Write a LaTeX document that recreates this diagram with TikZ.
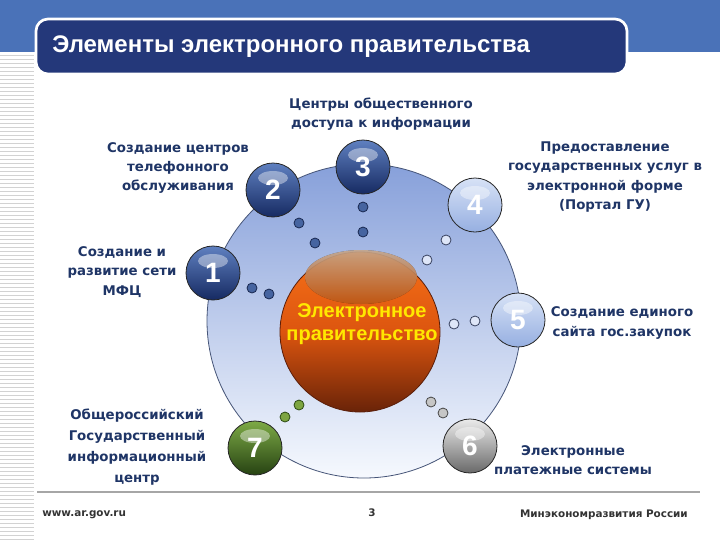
\documentclass[tikz,border=0pt]{standalone}
\usepackage{fontspec}
\setmainfont{DejaVu Sans}
\newfontfamily\arialfont{Liberation Sans}
\usepackage{tikz}

\definecolor{bandblue}{RGB}{74,114,184}
\definecolor{titlenavy}{RGB}{36,56,122}
\definecolor{lbltext}{RGB}{31,53,102}
\definecolor{ringtop}{RGB}{135,160,218}
\definecolor{ringbot}{RGB}{246,249,254}
\definecolor{egovtop}{RGB}{246,112,24}
\definecolor{egovbot}{RGB}{105,35,8}
\definecolor{egovtext}{RGB}{255,232,0}

\tikzset{
  sphere/.style={circle, draw=black!85, line width=0.6pt, minimum size=40.5pt, inner sep=0pt,
    text=white, font=\arialfont\bfseries\fontsize{21}{21}\selectfont,
    path picture={\fill[white, opacity=0.4] (path picture bounding box.center) ++(0,12)
      ellipse [x radius=15, y radius=7];}},
  bluesphere/.style={sphere, top color={rgb,255:red,95;green,128;blue,192}, bottom color={rgb,255:red,22;green,42;blue,98}},
  lightsphere/.style={sphere, top color={rgb,255:red,215;green,226;blue,246}, bottom color={rgb,255:red,150;green,175;blue,225}},
  graysphere/.style={sphere, top color={rgb,255:red,235;green,235;blue,235}, bottom color={rgb,255:red,105;green,105;blue,105}},
  greensphere/.style={sphere, top color={rgb,255:red,125;green,170;blue,70}, bottom color={rgb,255:red,38;green,66;blue,18}},
  dot/.style={circle, minimum size=7.5pt, inner sep=0pt, line width=0.6pt},
  bluedot/.style={dot, fill={rgb,255:red,70;green,100;blue,160}, draw={rgb,255:red,25;green,40;blue,80}},
  lightdot/.style={dot, fill={rgb,255:red,222;green,230;blue,248}, draw={rgb,255:red,55;green,65;blue,95}},
  graydot/.style={dot, fill=gray!45, draw=gray!55!black},
  greendot/.style={dot, fill={rgb,255:red,125;green,165;blue,65}, draw={rgb,255:red,45;green,75;blue,20}},
  lbl/.style={align=center, text=lbltext, font=\bfseries\fontsize{10}{14.5}\selectfont, inner sep=0pt},
  foot/.style={text=black!80, font=\bfseries\fontsize{7.8}{8}\selectfont, inner sep=0pt}
}

\begin{document}
\begin{tikzpicture}[x=0.75pt,y=0.75pt,yscale=-1,xscale=1]
\useasboundingbox (0,0) rectangle (720,540);

% background, band and stripes
\fill[white] (0,0) rectangle (720,540);
\fill[bandblue] (0,0) rectangle (720,52);
\foreach \y in {55,59,...,539}
  \draw[gray!35, line width=0.6pt] (0,\y) -- (34,\y);

% title
\draw[white, line width=2pt, fill=titlenavy, rounded corners=9] (36,19) rectangle (627,74);
\node (title) [anchor=west, text=white, inner sep=0pt, font=\arialfont\bfseries\fontsize{18}{18}\selectfont] at (52,47) {Элементы электронного правительства};

% big ring
\draw[top color=ringtop, bottom color=ringbot, draw={rgb,255:red,70;green,85;blue,120}, line width=0.6pt] (364,321) circle [radius=157];

% small dots
\node (d1a) [bluedot] at (252,288) {};
\node (d1b) [bluedot] at (269,294) {};
\node (d2a) [bluedot] at (299,223) {};
\node (d2b) [bluedot] at (315,243) {};
\node (d3a) [bluedot] at (363,207) {};
\node (d3b) [bluedot] at (363,232) {};
\node (d4a) [lightdot] at (446,240) {};
\node (d4b) [lightdot] at (427,260) {};
\node (d5a) [lightdot] at (454,324) {};
\node (d5b) [lightdot] at (475,321) {};
\node (d6a) [graydot] at (431,402) {};
\node (d6b) [graydot] at (443,413) {};
\node (d7a) [greendot] at (299,405) {};
\node (d7b) [greendot] at (285,417) {};

% central sphere
\node (egov) [circle, minimum size=120pt, inner sep=0pt, draw={rgb,255:red,90;green,30;blue,10}, line width=0.6pt,
  top color=egovtop, bottom color=egovbot, middle color={rgb,255:red,220;green,85;blue,15}] at (360,332) {};
\fill[top color={rgb,255:red,255;green,215;blue,180}, bottom color=egovtop, opacity=0.7] (361,277) ellipse [x radius=56, y radius=27];
\node (egovtxt) [align=center, text=egovtext, inner sep=0pt, font=\arialfont\bfseries\fontsize{15}{17}\selectfont] at (362,324) {Электронное\\правительство};

% numbered spheres
\node (s1) [bluesphere] at (213,273) {1};
\node (s2) [bluesphere] at (273,190) {2};
\node (s3) [bluesphere] at (363,167) {3};
\node (s4) [lightsphere] at (475,205) {4};
\node (s5) [lightsphere] at (518,320) {5};
\node (s6) [graysphere] at (470,446) {6};
\node (s7) [greensphere] at (255,448) {7};

% labels
\node (l3) [lbl] at (381,114) {Центры общественного\\доступа к информации};
\node (l2) [lbl] at (178,168) {Создание центров\\телефонного\\обслуживания};
\node (l1) [lbl] at (122,272) {Создание и\\развитие сети\\МФЦ};
\node (l4) [lbl] at (605,177) {Предоставление\\государственных услуг в\\электронной форме\\(Портал ГУ)};
\node (l5) [lbl] at (622,323) {Создание единого\\сайта гос.закупок};
\node (l7) [lbl, font=\bfseries\fontsize{10}{15.8}\selectfont] at (137,447) {Общероссийский\\Государственный\\информационный\\центр};
\node (l6) [lbl] at (573,460) {Электронные\\платежные системы};

% footer
\draw[gray!70, line width=0.8pt] (37,492) -- (700,492);
\node (web) [foot, anchor=west] at (42,515) {www.ar.gov.ru};
\node (page) [foot] at (372,513) {3};
\node (ministry) [foot, anchor=east] at (688,515) {Минэкономразвития России};

\end{tikzpicture}
\end{document}
